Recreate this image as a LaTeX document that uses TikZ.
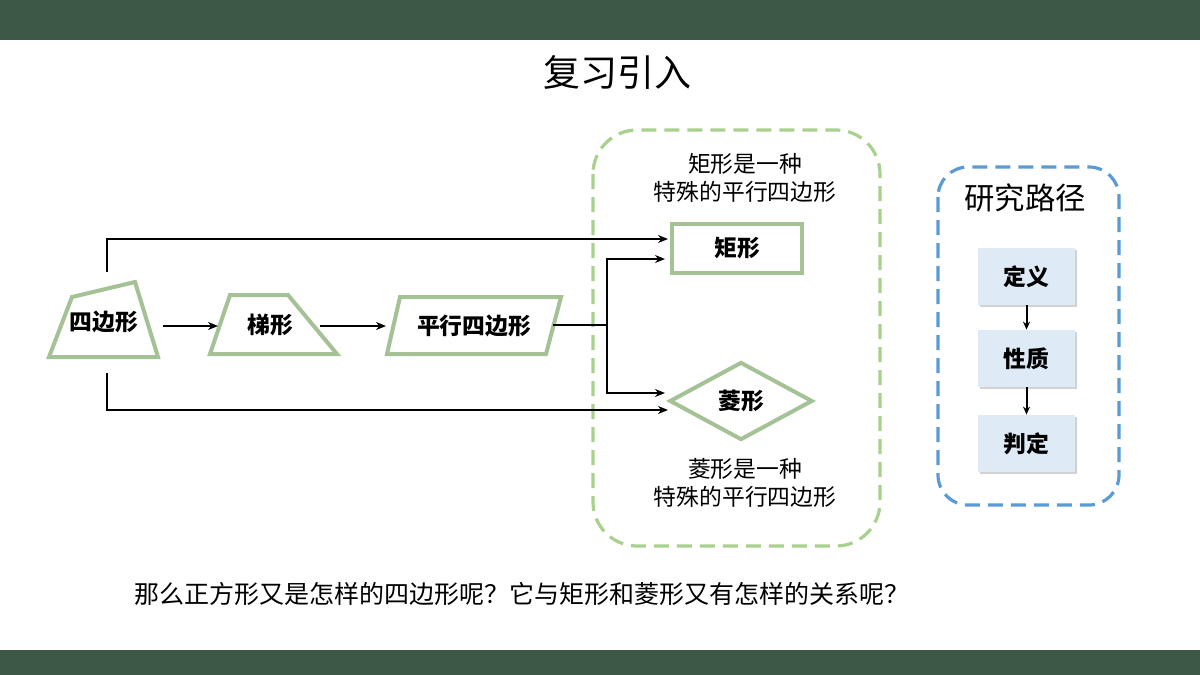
\documentclass[tikz,border=0pt]{standalone}
\usepackage{fontspec}
\setmainfont{Noto Sans CJK SC}
\usetikzlibrary{arrows.meta,shapes.geometric,shadows}
\definecolor{bar}{HTML}{3D5945}
\definecolor{sage}{HTML}{A5C196}
\definecolor{lgreen}{HTML}{A9D18E}
\definecolor{lblue}{HTML}{5B9BD5}
\definecolor{pale}{HTML}{DEEBF7}
\tikzset{
  shapeline/.style={draw=sage, line width=2pt, line join=miter},
  conn/.style={line width=1.3pt, -{Stealth[length=5pt,width=4pt]}},
  plain/.style={line width=1.3pt},
  lbl/.style={font=\bfseries\fontsize{11.4}{13}\selectfont, inner sep=0pt},
  note/.style={font=\fontsize{11.4}{14}\selectfont, align=center, inner sep=0pt},
  stepbox/.style={fill=pale, minimum width=48.5pt, minimum height=28.5pt, inner sep=0pt,
     font=\bfseries\fontsize{11.4}{13}\selectfont, drop shadow={shadow xshift=1pt,shadow yshift=-1pt,opacity=0.35}},
}
\begin{document}
\begin{tikzpicture}[x=0.5pt,y=-0.5pt]
\useasboundingbox (0,0) rectangle (1200,675);
\fill[white] (0,0) rectangle (1200,675);
\fill[bar] (0,0) rectangle (1200,40);
\fill[bar] (0,650) rectangle (1200,675);
\node[font=\fontsize{18.5}{20}\selectfont] (title) at (617,72) {复习引入};

% green dashed group
\draw[lgreen, line width=1.6pt, dash pattern=on 7.5pt off 4pt, rounded corners=22pt] (593,130) rectangle (880,546);
\node[note] (n1) at (745,178) {矩形是一种\\特殊的平行四边形};
\node[note] (n2) at (745,483) {菱形是一种\\特殊的平行四边形};

% shapes
\draw[shapeline] (72,297) -- (135,282) -- (158,357) -- (49,357) -- cycle;
\node[lbl] (quad) at (104,322) {四边形};
\draw[shapeline] (230,295) -- (288,295) -- (337,354) -- (210,354) -- cycle;
\node[lbl] (trap) at (270,325) {梯形};
\draw[shapeline] (400,297) -- (561,297) -- (546,354) -- (387,354) -- cycle;
\node[lbl] (para) at (474,326) {平行四边形};
\node[shapeline, draw, minimum width=65pt, minimum height=24.5pt, inner sep=0pt] (rect) at (737,248) {};
\node[lbl] at (rect) {矩形};
\node[shapeline, draw, diamond, aspect=1.83, minimum width=71.5pt, minimum height=39pt, inner sep=0pt] (rhom) at (741,401) {};
\node[lbl] at (rhom) {菱形};

% connectors
\coordinate (qt) at (107,272);
\coordinate (qb) at (107,373);
\coordinate (rt) at (668,239);
\coordinate (rb) at (668,410);
\draw[conn] (qt) |- (rt);
\draw[conn] (qb) |- (rb);
\coordinate (qr) at (163,326);
\coordinate (tl) at (218,326);
\draw[conn] (qr) -- (tl);
\coordinate (tr) at (320,326);
\coordinate (pl) at (386,326);
\draw[conn] (tr) -- (pl);
\coordinate (pr) at (553,325);
\coordinate (br) at (607,325);
\coordinate (r2) at (665,259);
\coordinate (h2) at (665,393);
\draw[plain] (pr) -- (br);
\draw[conn] (br) |- (r2);
\draw[conn] (br) |- (h2);

% blue dashed group
\draw[lblue, line width=1.6pt, dash pattern=on 7.5pt off 4pt, rounded corners=15pt] (938,167) rectangle (1119,505);
\node[font=\fontsize{15.2}{17}\selectfont] (path) at (1025,198) {研究路径};
\node[stepbox] (def) at (1026.5,276.5) {定义};
\node[stepbox] (prop) at (1026.5,358.5) {性质};
\node[stepbox] (judg) at (1026.5,443.5) {判定};
\draw[line width=1pt, -{Stealth[length=4pt,width=3.5pt]}] (def) -- (prop);
\draw[line width=1pt, -{Stealth[length=4pt,width=3.5pt]}] (prop) -- (judg);

\node[font=\fontsize{12.5}{14}\selectfont, anchor=west, inner sep=0pt] (q) at (134,594) {那么正方形又是怎样的四边形呢？它与矩形和菱形又有怎样的关系呢？};
\end{tikzpicture}
\end{document}
